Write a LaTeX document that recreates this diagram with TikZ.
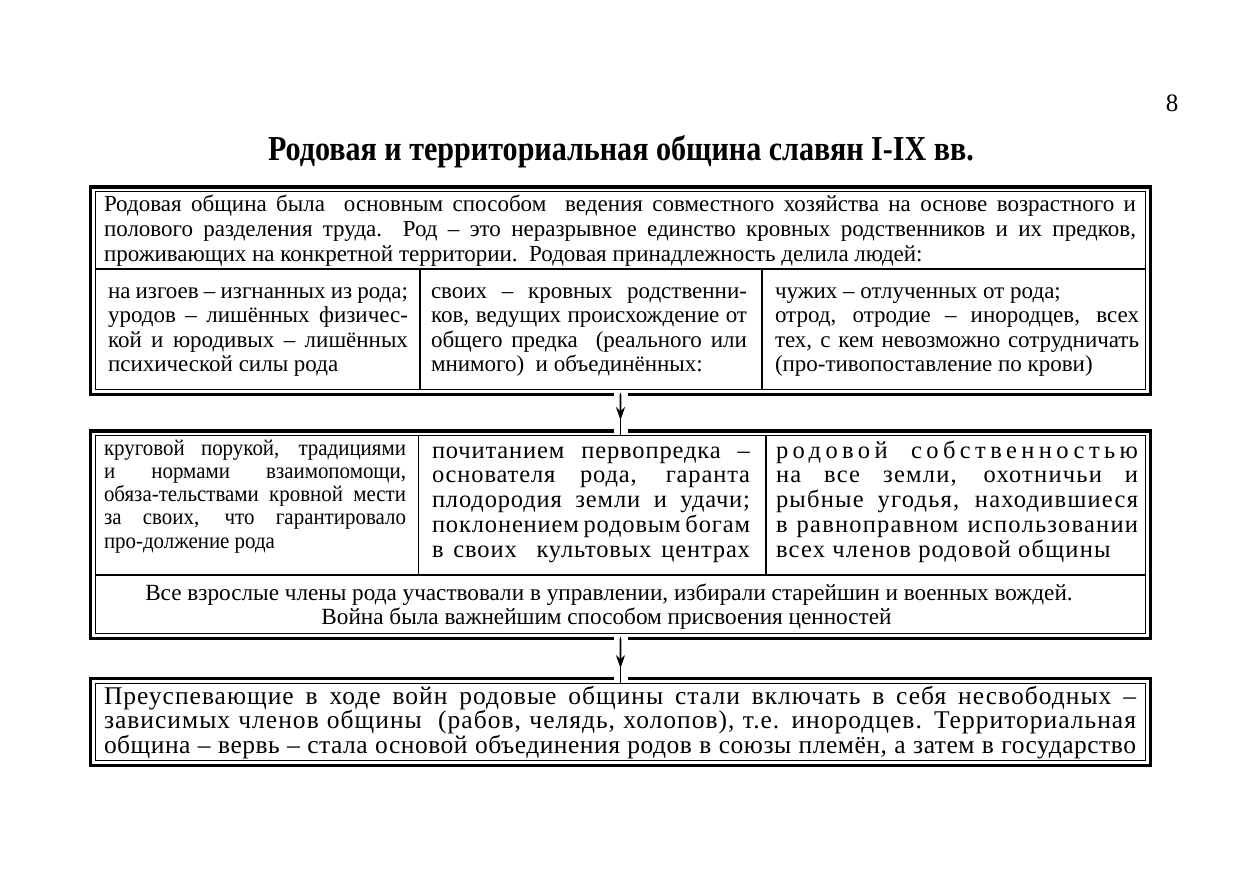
\documentclass[tikz,border=0pt]{standalone}
\usepackage{fontspec}
\setmainfont{Liberation Serif}
\newfontfamily\titlefont{Liberation Serif}[FakeStretch=0.86]
\newfontfamily\condfont{Liberation Serif}[FakeStretch=0.93]
\usetikzlibrary{arrows.meta,calc}
\newcommand\jline[1]{\makebox[\linewidth][s]{#1}\par}
\newcommand\lline[1]{\makebox[\linewidth][l]{#1}\par}
\tikzset{
  outerbox/.style={draw, line width=3.2pt, minimum width=1060pt, inner sep=0pt, outer sep=0pt},
  innerline/.style={line width=1.1pt},
  txt/.style={anchor=base west, inner sep=0pt, outer sep=0pt},
  ctxt/.style={anchor=base, inner sep=0pt, outer sep=0pt},
  conn/.style={line width=1.8pt},
  gap/.style={white, line width=5pt},
}
\begin{document}
\begin{tikzpicture}[x=1pt,y=-1pt]
\path[use as bounding box, fill=white] (0,0) rectangle (1241,875);

\node[ctxt] (pnum) at (1172,111) {\fontsize{25}{25}\selectfont 8};
\node[ctxt] (title) at (621,160) {\titlefont\bfseries\fontsize{35}{35}\selectfont Родовая и территориальная община славян I-IX вв.};

% ---------- box 1
\node[outerbox, minimum height=207.5pt] (box1) at (620.5,290.75) {};
\draw[innerline] ([shift={(4.75pt,-4.75pt)}]box1.north west) rectangle ([shift={(-4.75pt,4.75pt)}]box1.south east);
\draw[innerline] (95.25,269) -- (1145.75,269);
\draw[innerline] (420,269) -- (420,389.75);
\draw[innerline] (762,269) -- (762,389.75);

\node[txt] (h1) at (104,211) {\parbox[t]{1032pt}{\fontsize{23}{25}\selectfont
\jline{Родовая община была\ \ основным способом\ \ ведения совместного хозяйства на основе возрастного и}
\jline{полового разделения труда.\ \ Род – это неразрывное единство кровных родственников и их предков,}
\lline{проживающих на конкретной территории.\ \ Родовая принадлежность делила людей:}}};

\node[txt] (c11) at (108,298) {\parbox[t]{300pt}{\fontsize{23}{24.5}\selectfont
\jline{на изгоев – изгнанных из рода;}
\jline{уродов – лишённых физичес-}
\jline{кой и юродивых – лишённых}
\lline{психической силы рода}}};

\node[txt] (c12) at (431,298) {\parbox[t]{316pt}{\fontsize{23}{24.5}\selectfont
\jline{своих – кровных родственни-}
\jline{ков, ведущих происхождение от}
\jline{общего предка\ \ (реального или}
\lline{мнимого)\ \ и объединённых:}}};

\node[txt] (c13) at (775,298) {\parbox[t]{364pt}{\fontsize{23}{24.5}\selectfont
\lline{чужих – отлученных от рода;}
\jline{отрод, отродие – инородцев, всех}
\jline{тех, с кем невозможно сотрудничать}
\lline{(про-тивопоставление по крови)}}};

% ---------- box 2
\node[outerbox, minimum height=207.5pt] (box2) at (620.5,534.75) {};
\draw[innerline] ([shift={(4.75pt,-4.75pt)}]box2.north west) rectangle ([shift={(-4.75pt,4.75pt)}]box2.south east);
\draw[innerline] (95.25,575) -- (1145.75,575);
\draw[innerline] (418.5,435.75) -- (418.5,575);
\draw[innerline] (766,435.75) -- (766,575);

\node[txt] (c21) at (104,455) {\parbox[t]{302pt}{\condfont\fontsize{22.5}{23.3}\selectfont
\jline{круговой порукой, традициями}
\jline{и нормами взаимопомощи,}
\jline{обяза-тельствами кровной мести}
\jline{за своих, что гарантировало}
\lline{про-должение рода}}};

\node[txt] (c22) at (432,458) {\parbox[t]{318pt}{\fontsize{24.5}{24.75}\selectfont\addfontfeature{LetterSpace=3.5}
\jline{почитанием первопредка –}
\jline{основателя рода, гаранта}
\jline{плодородия земли и удачи;}
\jline{поклонением родовым богам}
\jline{в своих\ \ культовых центрах}}};

\node[txt] (c23) at (776,458) {\parbox[t]{362pt}{\fontsize{24.5}{24.75}\selectfont\addfontfeature{LetterSpace=5}
{\addfontfeature{LetterSpace=18}\jline{родовой собственностью}}
\jline{на все земли, охотничьи и}
\jline{рыбные угодья, находившиеся}
\jline{в равноправном использовании}
\lline{всех членов родовой общины}}};

\node[ctxt] (r1) at (609,600) {\fontsize{23.2}{24.5}\selectfont Все взрослые члены рода участвовали в управлении, избирали старейшин и военных вождей.};
\node[ctxt] (r2) at (606.5,624.5) {\fontsize{23.2}{24.5}\selectfont Война была важнейшим способом присвоения ценностей};

% ---------- box 3
\node[outerbox, minimum height=87pt] (box3) at (620.5,722) {};
\draw[innerline] ([shift={(4.75pt,-4.75pt)}]box3.north west) rectangle ([shift={(-4.75pt,4.75pt)}]box3.south east);

\node[txt] (t3) at (104,704) {\parbox[t]{1032pt}{\fontsize{25.5}{24.5}\selectfont\addfontfeature{LetterSpace=4}
\jline{Преуспевающие в ходе войн родовые общины стали включать в себя несвободных –}
\jline{зависимых членов общины\ \ (рабов, челядь, холопов), т.е. инородцев. Территориальная}
{\addfontfeature{LetterSpace=2}\jline{община – вервь – стала основой объединения родов в союзы племён, а затем в государство}}}};

% ---------- connectors
\draw[gap] ([xshift=-7pt]box1.south) -- ([xshift=7pt]box1.south);
\draw[gap] ([xshift=-7pt]box2.north) -- ([xshift=7pt]box2.north);
\draw[conn] ([yshift=2pt]box1.south) -- ([yshift=-5pt]box2.north);
\draw[conn, -{Stealth[length=13pt,width=9pt]}] (box1.south) -- ($(box1.south)!0.7!(box2.north)$);

\draw[gap] ([xshift=-7pt]box2.south) -- ([xshift=7pt]box2.south);
\draw[gap] ([xshift=-7pt]box3.north) -- ([xshift=7pt]box3.north);
\draw[conn] ([yshift=2pt]box2.south) -- ([yshift=-5pt]box3.north);
\draw[conn, -{Stealth[length=13pt,width=9pt]}] (box2.south) -- ($(box2.south)!0.74!(box3.north)$);
\end{tikzpicture}
\end{document}
